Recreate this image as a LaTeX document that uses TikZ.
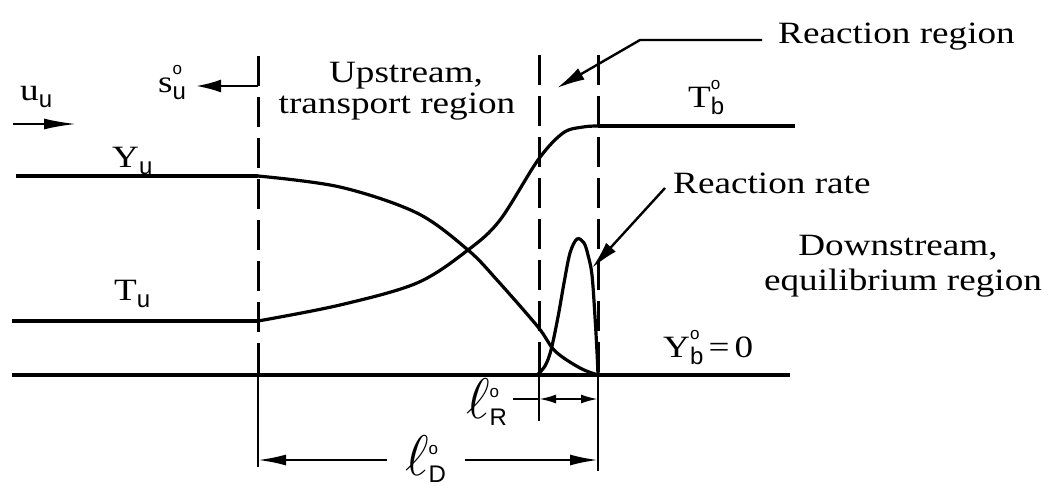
\documentclass[tikz,border=0pt]{standalone}
\usepackage{fontspec}
\setmainfont{Liberation Serif}[FakeStretch=1.2]
\newfontfamily\sbf{Liberation Sans}
\usetikzlibrary{arrows.meta}
\newcommand{\lblfont}{\fontsize{31}{36}\selectfont}
\newcommand{\sbx}[1]{\raisebox{-7pt}{\sbf\fontsize{24}{24}\selectfont #1}}
\newcommand{\dg}{\rlap{\raisebox{18pt}{\sbf\fontsize{17}{17}\selectfont o}}}
\newcommand{\dgm}{\rlap{\raisebox{21pt}{\sbf\fontsize{17}{17}\selectfont o}}}
\newcommand{\ellx}{\scalebox{2.3}{$\ell$}}
\begin{document}
\begin{tikzpicture}[x=1pt,y=-1pt,
  curve/.style={line width=3.2pt},
  guide/.style={line width=3pt, dash pattern=on 30pt off 11pt},
  solidguide/.style={line width=2.4pt},
  arr/.style={line width=2.4pt,-{Latex[length=28pt,width=13pt]}},
  dimhead/.style={line width=2.2pt},
  lbl/.style={inner sep=0pt, font=\lblfont}]
\useasboundingbox (0,0) rectangle (1049,488);

% guide lines
\coordinate (g1t) at (258,56); \coordinate (g1b) at (258,375); \coordinate (g1e) at (258,467);
\coordinate (g2t) at (539,55); \coordinate (g2b) at (539,375); \coordinate (g2e) at (539,421);
\coordinate (g3t) at (598,55); \coordinate (g3b) at (598,375); \coordinate (g3e) at (598,471);
\draw[guide] (g1t) -- (g1b); \draw[solidguide] (g1b) -- (g1e);
\draw[guide] (g2t) -- (g2b); \draw[solidguide] (g2b) -- (g2e);
\draw[guide] (g3t) -- (g3b); \draw[solidguide] (g3b) -- (g3e);

% baseline
\coordinate (b0) at (12,375); \coordinate (b1) at (790,375);
\draw[curve] (b0) -- (b1);

% Y curve
\coordinate (y0) at (16,176); \coordinate (y1) at (258,176);
\draw[curve] (y0) -- (y1);
\draw[curve] plot[smooth, tension=0.55] coordinates {(258,176) (340,187) (417,213) (468,250) (497,280) (538,327) (555,351) (580,368) (598,375)};

% T curve
\coordinate (t0) at (12,321); \coordinate (t1) at (258,321); \coordinate (t2) at (598,126); \coordinate (t3) at (795,126);
\draw[curve] (t0) -- (t1);
\draw[curve] plot[smooth, tension=0.55] coordinates {(258,321) (340,305) (417,283) (468,250) (500,220) (538,160) (563,133) (583,127) (598,126)};
\draw[curve] (t2) -- (t3);

% reaction rate
\draw[curve] plot[smooth, tension=0.55] coordinates {(537,375) (545,366) (551,350) (558,317) (564,283) (570,253) (577,239) (584,243) (588,255) (592,275) (595,317) (597,352) (598,375)};

% labels
\node[lbl, anchor=base west] (uu) at (20,100) {u\sbx{u}};
\node[lbl, anchor=base west] (su) at (158,92) {s\dg\sbx{u}};
\node[lbl, anchor=base west] (Yu) at (112,167) {Y\sbx{u}};
\node[lbl, anchor=base west] (Tu) at (114,300) {T\sbx{u}};
\node[lbl, anchor=base] (up1) at (406,82) {Upstream,};
\node[lbl, anchor=base] (up2) at (397,113) {transport region};
\node[lbl, anchor=base west] (rreg) at (778,43) {Reaction region};
\node[lbl, anchor=base west] (Tb) at (688,107) {T\dg\sbx{b}};
\node[lbl, anchor=base west] (rrate) at (673,193) {Reaction rate};
\node[lbl, anchor=base] (dn1) at (898,255) {Downstream,};
\node[lbl, anchor=base] (dn2) at (903,290) {equilibrium region};
\node[lbl, anchor=base west] (Yb) at (663,357) {Y\dg\sbx{b}\,=\,0};
\node[lbl, anchor=base west] (lR) at (466,418) {\ellx\dgm\sbx{R}};
\node[lbl, anchor=base west] (lD) at (405,475) {\ellx\dgm\sbx{D}};

% arrows
\coordinate (ua) at (13,124); \coordinate (ub) at (76,124);
\draw[line width=2.2pt,-{Latex[length=32pt,width=11pt]}] (ua) -- (ub);
\coordinate (sa) at (258,86); \coordinate (sb) at (196,86);
\draw[arr,-{Latex[length=25pt,width=13pt]}] (sa) -- (sb);
\coordinate (rre) at (762,40); \coordinate (rrk) at (640,40); \coordinate (rrt) at (557,88);
\draw[arr, line join=miter] (rre) -- (rrk) -- (rrt);
\coordinate (rta) at (665,188); \coordinate (rtb) at (592,268);
\draw[arr] (rta) -- (rtb);

% dimension lR
\coordinate (lRa) at (513,399); \coordinate (lRb) at (539,399); \coordinate (lRc) at (598,399);
\draw[dimhead] (lRa) -- (lRb);
\draw[dimhead, {Latex[length=17pt,width=9pt]}-{Latex[length=17pt,width=9pt]}] (lRb) -- (lRc);
% dimension lD
\coordinate (lDa) at (387,460); \coordinate (lDb) at (258,460); \coordinate (lDc) at (465,460); \coordinate (lDd) at (598,460);
\draw[dimhead, -{Latex[length=28pt,width=11pt]}] (lDa) -- (lDb);
\draw[dimhead, -{Latex[length=28pt,width=11pt]}] (lDc) -- (lDd);
\end{tikzpicture}
\end{document}
